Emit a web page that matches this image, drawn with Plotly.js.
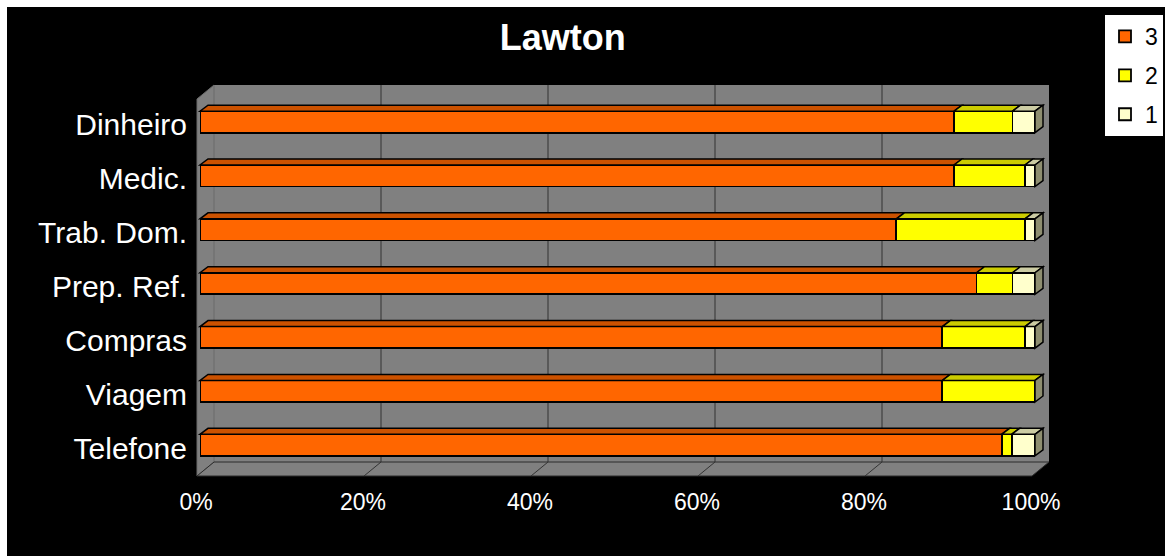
<!DOCTYPE html>
<html>
<head>
<meta charset="utf-8">
<script src="https://cdn.plot.ly/plotly-3.0.1.min.js"></script>
<style>
  html, body { margin: 0; padding: 0; background: #ffffff; }
  #chart { position: absolute; left: 7px; top: 7px; width: 1158px; height: 549px; }
</style>
</head>
<body>
<div id="chart"></div>
<script>
// ---- data ----
const categories = ['Dinheiro', 'Medic.', 'Trab. Dom.', 'Prep. Ref.', 'Compras', 'Viagem', 'Telefone'];
const seriesNames = ['3', '2', '1'];
const values3 = [90.3, 90.3, 83.4, 93.0, 88.9, 88.9, 96.0];
const values2 = [7.0, 8.5, 15.4, 4.3, 9.9, 11.1, 1.2];
const values1 = [2.7, 1.2, 1.2, 2.7, 1.2, 0.0, 2.8];
const xTickVals = [0, 20, 40, 60, 80, 100];
const xTickText = ['0%', '20%', '40%', '60%', '80%', '100%'];

// ---- styles ----
const frontColors = ['#FF6600', '#FFFF00', '#FFFFCC'];
const topColors = ['#CC5200', '#CCCC00', '#CCCCA3'];
const sideColor = '#8E8E70';
const FONT = 'Liberation Sans, Arial, sans-serif';

const W = 1158, H = 549;
const M = {l: 193, r: 130, t: 88, b: 84};
const plotW = W - M.l - M.r;   // 835
const plotH = H - M.t - M.b;   // 377
const xRange = [0, 100];
const yRange = [categories.length - 0.5, -0.5];
const barWidth = 0.4;

const yIdx = categories.map((c, i) => i);
const allSeries = [values3, values2, values1];

const traces = allSeries.map((vals, k) => ({
  type: 'bar',
  orientation: 'h',
  name: seriesNames[k],
  legendgroup: 'g' + k,
  x: vals,
  y: yIdx,
  width: barWidth,
  marker: {color: frontColors[k], line: {color: '#000000', width: 1.8}},
  hoverinfo: 'x+name'
}));

// helpers: data -> paper, pixel offsets -> paper
const xp = v => (v - xRange[0]) / (xRange[1] - xRange[0]);
const yp = i => (yRange[0] - i) / (yRange[0] - yRange[1]);
const dX = px => px / plotW;
const dY = py => py / plotH;

// 3D depth offsets (pixels)
const backOff = {x: 14, y: 10};   // back wall relative to bar plane
const frontOff = {x: -3, y: -4};  // floor front relative to bar plane
const barDepth = {x: 8, y: 6};

const shapes = [];
function poly(pts, fill, line, layer, lw) {
  const d = 'M' + pts.map(p => p[0] + ',' + p[1]).join('L') + 'Z';
  shapes.push({type: 'path', xref: 'paper', yref: 'paper', path: d,
    fillcolor: fill, line: {color: line, width: lw === undefined ? 1 : lw}, layer: layer});
}
function seg(x0, y0, x1, y1, color, layer) {
  shapes.push({type: 'line', xref: 'paper', yref: 'paper', x0: x0, y0: y0, x1: x1, y1: y1,
    line: {color: color, width: 1}, layer: layer});
}

// back wall
poly([[dX(backOff.x), dY(backOff.y)], [1 + dX(backOff.x), dY(backOff.y)],
      [1 + dX(backOff.x), 1 + dY(backOff.y)], [dX(backOff.x), 1 + dY(backOff.y)]],
     '#808080', 'rgba(0,0,0,0)', 'below', 0);
// left side wall
poly([[dX(frontOff.x), 1 + dY(frontOff.y)], [dX(backOff.x), 1 + dY(backOff.y)],
      [dX(backOff.x), dY(backOff.y)], [dX(frontOff.x), dY(frontOff.y)]],
     '#808080', '#6a6a6a', 'below', 1);
// floor
poly([[dX(frontOff.x), dY(frontOff.y)], [1 + dX(frontOff.x), dY(frontOff.y)],
      [1 + dX(backOff.x), dY(backOff.y)], [dX(backOff.x), dY(backOff.y)]],
     '#808080', '#2a2a2a', 'below', 1);
// gridlines on back wall and floor
xTickVals.slice(1, -1).forEach(v => {
  seg(xp(v) + dX(backOff.x), dY(backOff.y), xp(v) + dX(backOff.x), 1 + dY(backOff.y), '#333333', 'below');
  seg(xp(v) + dX(backOff.x), dY(backOff.y), xp(v) + dX(frontOff.x), dY(frontOff.y), '#333333', 'below');
});

// bar tops and end faces
categories.forEach((c, i) => {
  const yT = yp(i - barWidth / 2);
  const yB = yp(i + barWidth / 2);
  let cum = 0;
  allSeries.forEach((vals, k) => {
    const v = vals[i];
    if (v > 0) {
      const a = xp(cum), b = xp(cum + v);
      poly([[a, yT], [b, yT], [b + dX(barDepth.x), yT + dY(barDepth.y)], [a + dX(barDepth.x), yT + dY(barDepth.y)]],
           topColors[k], '#000000', 'above', 1.5);
    }
    cum += v;
  });
  const e = xp(cum);
  poly([[e, yT], [e + dX(barDepth.x), yT + dY(barDepth.y)], [e + dX(barDepth.x), yB + dY(barDepth.y)], [e, yB]],
       sideColor, '#000000', 'above', 1.5);
});

const layout = {
  width: W, height: H,
  margin: M,
  paper_bgcolor: '#000000',
  plot_bgcolor: 'rgba(0,0,0,0)',
  barmode: 'stack',
  title: {
    text: '<b>Lawton</b>',
    font: {family: FONT, size: 36, color: '#ffffff'},
    xref: 'container', x: 0.48, xanchor: 'center',
    yref: 'container', y: 0.945, yanchor: 'middle'
  },
  xaxis: {
    range: xRange, tickvals: xTickVals, ticktext: xTickText,
    showgrid: false, zeroline: false, showline: false,
    ticks: '', ticklabelstandoff: 14, ticklabelshift: -4,
    tickfont: {family: FONT, size: 23, color: '#ffffff'}
  },
  yaxis: {
    range: yRange, tickvals: yIdx, ticktext: categories,
    showgrid: false, zeroline: false, showline: false,
    ticks: '', ticklabelstandoff: 12, ticklabelshift: -3,
    tickfont: {family: FONT, size: 30, color: '#ffffff'}
  },
  showlegend: true,
  legend: {
    xref: 'container', yref: 'container',
    x: (1104 - 7) / W, xanchor: 'left',
    y: 1 - (14 - 7) / H, yanchor: 'top',
    bgcolor: '#ffffff', bordercolor: '#000000', borderwidth: 1,
    font: {family: FONT, size: 23, color: '#000000'},
    traceorder: 'grouped', tracegroupgap: 6, itemwidth: 30
  },
  shapes: shapes
};

Plotly.newPlot('chart', traces, layout, {displayModeBar: false, staticPlot: true});
</script>
</body>
</html>
